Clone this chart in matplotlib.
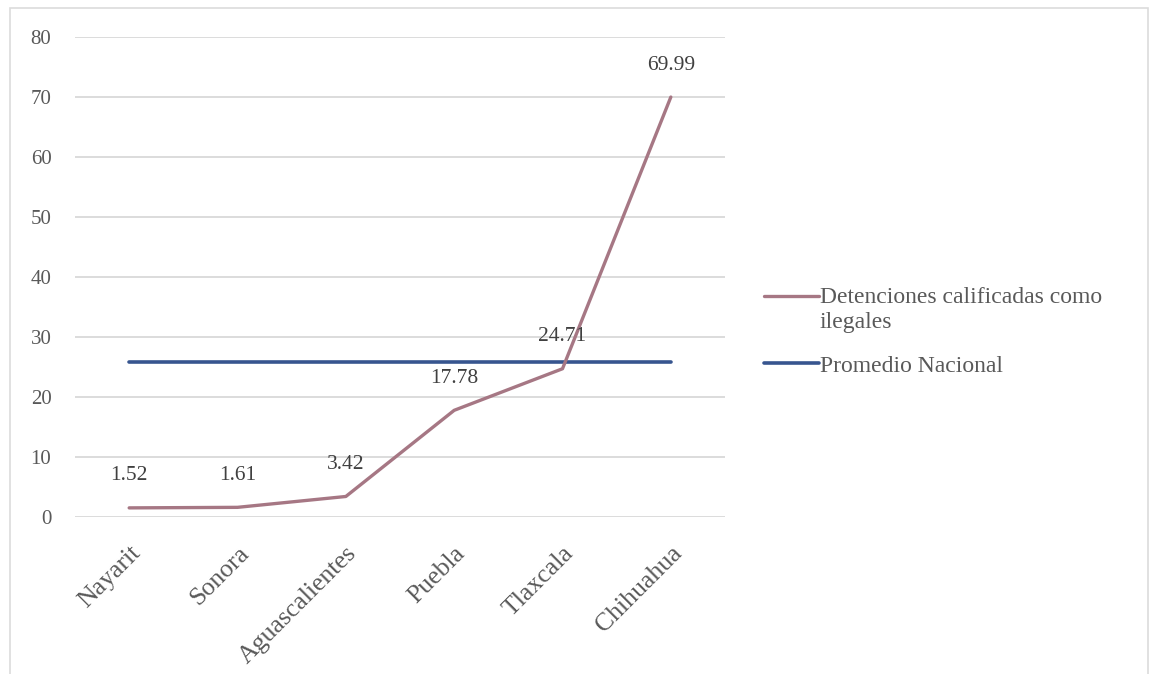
import matplotlib
matplotlib.use("Agg")
import matplotlib.pyplot as plt
from matplotlib.patches import Rectangle

categories = ["Nayarit", "Sonora", "Aguascalientes", "Puebla", "Tlaxcala", "Chihuahua"]
detenciones = [1.52, 1.61, 3.42, 17.78, 24.71, 69.99]
promedio = [25.9, 25.9, 25.9, 25.9, 25.9, 25.9]
yticks = [0, 10, 20, 30, 40, 50, 60, 70, 80]

W, H = 1151, 674
fig = plt.figure(figsize=(W / 100, H / 100), dpi=100)
fig.patch.set_facecolor("white")
plt.rcParams["font.family"] = ["Liberation Serif", "DejaVu Serif"]

ax = fig.add_axes([75 / W, 1 - 517 / H, 650 / W, 480 / H])
text_color = "#595959"
mauve = "#a67784"
blue = "#37558f"

x = list(range(len(categories)))
ax.plot(x, detenciones, color=mauve, lw=2.4, solid_capstyle="round",
        label="Detenciones calificadas como\nilegales", zorder=3)
ax.plot(x, promedio, color=blue, lw=2.6, solid_capstyle="round",
        label="Promedio Nacional", zorder=2)

for xi, v in zip(x, detenciones):
    ax.annotate(f"{v:.2f}", (xi, v), xytext=(0, 23), textcoords="offset points",
                ha="center", va="center", fontsize=15.5, color="#404040")

ax.set_xlim(-0.5, len(categories) - 0.5)
ax.set_ylim(0, 80)
ax.set_yticks(yticks)
ax.set_yticklabels([str(t) for t in yticks], fontsize=15, color=text_color)
ax.set_xticks(x)
ax.set_xticklabels(categories, rotation=45, ha="right", va="top",
                   rotation_mode="anchor", fontsize=18.5, color=text_color)

ax.tick_params(axis="both", length=0)
ax.tick_params(axis="y", pad=17)
ax.tick_params(axis="x", pad=18)
ax.grid(axis="y", color="#d9d9d9", lw=1.3)
ax.set_axisbelow(True)
for s in ax.spines.values():
    s.set_visible(False)

leg = ax.legend(loc="center left", bbox_to_anchor=(743 / W, 1 - 332 / H),
                bbox_transform=fig.transFigure, frameon=False, fontsize=17,
                handlelength=2.3, handletextpad=0.05, labelspacing=0.95,
                labelcolor=text_color)
first = leg.get_lines()[0]
first.set_ydata([yy + 10 for yy in first.get_ydata()])

fig.add_artist(Rectangle((10 / W, -0.05), 1138 / W, 1.05 - 8 / H, transform=fig.transFigure,
                         fill=False, edgecolor="#dcdcdc", lw=1.2))

fig.savefig("out.png", dpi=100)
